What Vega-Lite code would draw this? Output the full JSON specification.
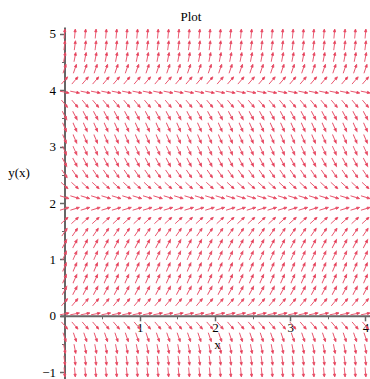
{
  "$schema": "https://vega.github.io/schema/vega-lite/v6.json",
  "width": 310,
  "height": 352,
  "autosize": {"type": "none"},
  "padding": {"left": 60, "top": 27, "right": 0, "bottom": 0},
  "background": "white",
  "title": {"text": "Plot", "font": "Liberation Serif", "fontSize": 13, "fontWeight": "normal", "color": "#000", "anchor": "middle", "dx": -24, "offset": 3},
  "config": {"view": {"stroke": null}},
  "data": {"values": [
    {"y": -1, "a": 84.9, "x": [0,0.138,0.276,0.414,0.552,0.69,0.828,0.966,1.103,1.241,1.379,1.517,1.655,1.793,1.931,2.069,2.207,2.345,2.483,2.621,2.759,2.897,3.034,3.172,3.31,3.448,3.586,3.724,3.862,4]},
    {"y": -0.793, "a": 82.8, "x": [0,0.138,0.276,0.414,0.552,0.69,0.828,0.966,1.103,1.241,1.379,1.517,1.655,1.793,1.931,2.069,2.207,2.345,2.483,2.621,2.759,2.897,3.034,3.172,3.31,3.448,3.586,3.724,3.862,4]},
    {"y": -0.586, "a": 79.1, "x": [0,0.138,0.276,0.414,0.552,0.69,0.828,0.966,1.103,1.241,1.379,1.517,1.655,1.793,1.931,2.069,2.207,2.345,2.483,2.621,2.759,2.897,3.034,3.172,3.31,3.448,3.586,3.724,3.862,4]},
    {"y": -0.379, "a": 71.4, "x": [0,0.138,0.276,0.414,0.552,0.69,0.828,0.966,1.103,1.241,1.379,1.517,1.655,1.793,1.931,2.069,2.207,2.345,2.483,2.621,2.759,2.897,3.034,3.172,3.31,3.448,3.586,3.724,3.862,4]},
    {"y": -0.172, "a": 49.5, "x": [0,0.138,0.276,0.414,0.552,0.69,0.828,0.966,1.103,1.241,1.379,1.517,1.655,1.793,1.931,2.069,2.207,2.345,2.483,2.621,2.759,2.897,3.034,3.172,3.31,3.448,3.586,3.724,3.862,4]},
    {"y": 0.034, "a": -11.4, "x": [0,0.138,0.276,0.414,0.552,0.69,0.828,0.966,1.103,1.241,1.379,1.517,1.655,1.793,1.931,2.069,2.207,2.345,2.483,2.621,2.759,2.897,3.034,3.172,3.31,3.448,3.586,3.724,3.862,4]},
    {"y": 0.241, "a": -50.1, "x": [0,0.138,0.276,0.414,0.552,0.69,0.828,0.966,1.103,1.241,1.379,1.517,1.655,1.793,1.931,2.069,2.207,2.345,2.483,2.621,2.759,2.897,3.034,3.172,3.31,3.448,3.586,3.724,3.862,4]},
    {"y": 0.448, "a": -61.6, "x": [0,0.138,0.276,0.414,0.552,0.69,0.828,0.966,1.103,1.241,1.379,1.517,1.655,1.793,1.931,2.069,2.207,2.345,2.483,2.621,2.759,2.897,3.034,3.172,3.31,3.448,3.586,3.724,3.862,4]},
    {"y": 0.655, "a": -65.7, "x": [0,0.138,0.276,0.414,0.552,0.69,0.828,0.966,1.103,1.241,1.379,1.517,1.655,1.793,1.931,2.069,2.207,2.345,2.483,2.621,2.759,2.897,3.034,3.172,3.31,3.448,3.586,3.724,3.862,4]},
    {"y": 0.862, "a": -66.6, "x": [0,0.138,0.276,0.414,0.552,0.69,0.828,0.966,1.103,1.241,1.379,1.517,1.655,1.793,1.931,2.069,2.207,2.345,2.483,2.621,2.759,2.897,3.034,3.172,3.31,3.448,3.586,3.724,3.862,4]},
    {"y": 1.069, "a": -65.4, "x": [0,0.138,0.276,0.414,0.552,0.69,0.828,0.966,1.103,1.241,1.379,1.517,1.655,1.793,1.931,2.069,2.207,2.345,2.483,2.621,2.759,2.897,3.034,3.172,3.31,3.448,3.586,3.724,3.862,4]},
    {"y": 1.276, "a": -62.1, "x": [0,0.138,0.276,0.414,0.552,0.69,0.828,0.966,1.103,1.241,1.379,1.517,1.655,1.793,1.931,2.069,2.207,2.345,2.483,2.621,2.759,2.897,3.034,3.172,3.31,3.448,3.586,3.724,3.862,4]},
    {"y": 1.483, "a": -55.4, "x": [0,0.138,0.276,0.414,0.552,0.69,0.828,0.966,1.103,1.241,1.379,1.517,1.655,1.793,1.931,2.069,2.207,2.345,2.483,2.621,2.759,2.897,3.034,3.172,3.31,3.448,3.586,3.724,3.862,4]},
    {"y": 1.69, "a": -42.3, "x": [0,0.138,0.276,0.414,0.552,0.69,0.828,0.966,1.103,1.241,1.379,1.517,1.655,1.793,1.931,2.069,2.207,2.345,2.483,2.621,2.759,2.897,3.034,3.172,3.31,3.448,3.586,3.724,3.862,4]},
    {"y": 1.897, "a": -17.2, "x": [0,0.138,0.276,0.414,0.552,0.69,0.828,0.966,1.103,1.241,1.379,1.517,1.655,1.793,1.931,2.069,2.207,2.345,2.483,2.621,2.759,2.897,3.034,3.172,3.31,3.448,3.586,3.724,3.862,4]},
    {"y": 2.103, "a": 17.2, "x": [0,0.138,0.276,0.414,0.552,0.69,0.828,0.966,1.103,1.241,1.379,1.517,1.655,1.793,1.931,2.069,2.207,2.345,2.483,2.621,2.759,2.897,3.034,3.172,3.31,3.448,3.586,3.724,3.862,4]},
    {"y": 2.31, "a": 42.3, "x": [0,0.138,0.276,0.414,0.552,0.69,0.828,0.966,1.103,1.241,1.379,1.517,1.655,1.793,1.931,2.069,2.207,2.345,2.483,2.621,2.759,2.897,3.034,3.172,3.31,3.448,3.586,3.724,3.862,4]},
    {"y": 2.517, "a": 55.4, "x": [0,0.138,0.276,0.414,0.552,0.69,0.828,0.966,1.103,1.241,1.379,1.517,1.655,1.793,1.931,2.069,2.207,2.345,2.483,2.621,2.759,2.897,3.034,3.172,3.31,3.448,3.586,3.724,3.862,4]},
    {"y": 2.724, "a": 62.1, "x": [0,0.138,0.276,0.414,0.552,0.69,0.828,0.966,1.103,1.241,1.379,1.517,1.655,1.793,1.931,2.069,2.207,2.345,2.483,2.621,2.759,2.897,3.034,3.172,3.31,3.448,3.586,3.724,3.862,4]},
    {"y": 2.931, "a": 65.4, "x": [0,0.138,0.276,0.414,0.552,0.69,0.828,0.966,1.103,1.241,1.379,1.517,1.655,1.793,1.931,2.069,2.207,2.345,2.483,2.621,2.759,2.897,3.034,3.172,3.31,3.448,3.586,3.724,3.862,4]},
    {"y": 3.138, "a": 66.6, "x": [0,0.138,0.276,0.414,0.552,0.69,0.828,0.966,1.103,1.241,1.379,1.517,1.655,1.793,1.931,2.069,2.207,2.345,2.483,2.621,2.759,2.897,3.034,3.172,3.31,3.448,3.586,3.724,3.862,4]},
    {"y": 3.345, "a": 65.7, "x": [0,0.138,0.276,0.414,0.552,0.69,0.828,0.966,1.103,1.241,1.379,1.517,1.655,1.793,1.931,2.069,2.207,2.345,2.483,2.621,2.759,2.897,3.034,3.172,3.31,3.448,3.586,3.724,3.862,4]},
    {"y": 3.552, "a": 61.6, "x": [0,0.138,0.276,0.414,0.552,0.69,0.828,0.966,1.103,1.241,1.379,1.517,1.655,1.793,1.931,2.069,2.207,2.345,2.483,2.621,2.759,2.897,3.034,3.172,3.31,3.448,3.586,3.724,3.862,4]},
    {"y": 3.759, "a": 50.1, "x": [0,0.138,0.276,0.414,0.552,0.69,0.828,0.966,1.103,1.241,1.379,1.517,1.655,1.793,1.931,2.069,2.207,2.345,2.483,2.621,2.759,2.897,3.034,3.172,3.31,3.448,3.586,3.724,3.862,4]},
    {"y": 3.966, "a": 11.4, "x": [0,0.138,0.276,0.414,0.552,0.69,0.828,0.966,1.103,1.241,1.379,1.517,1.655,1.793,1.931,2.069,2.207,2.345,2.483,2.621,2.759,2.897,3.034,3.172,3.31,3.448,3.586,3.724,3.862,4]},
    {"y": 4.172, "a": -49.5, "x": [0,0.138,0.276,0.414,0.552,0.69,0.828,0.966,1.103,1.241,1.379,1.517,1.655,1.793,1.931,2.069,2.207,2.345,2.483,2.621,2.759,2.897,3.034,3.172,3.31,3.448,3.586,3.724,3.862,4]},
    {"y": 4.379, "a": -71.4, "x": [0,0.138,0.276,0.414,0.552,0.69,0.828,0.966,1.103,1.241,1.379,1.517,1.655,1.793,1.931,2.069,2.207,2.345,2.483,2.621,2.759,2.897,3.034,3.172,3.31,3.448,3.586,3.724,3.862,4]},
    {"y": 4.586, "a": -79.1, "x": [0,0.138,0.276,0.414,0.552,0.69,0.828,0.966,1.103,1.241,1.379,1.517,1.655,1.793,1.931,2.069,2.207,2.345,2.483,2.621,2.759,2.897,3.034,3.172,3.31,3.448,3.586,3.724,3.862,4]},
    {"y": 4.793, "a": -82.8, "x": [0,0.138,0.276,0.414,0.552,0.69,0.828,0.966,1.103,1.241,1.379,1.517,1.655,1.793,1.931,2.069,2.207,2.345,2.483,2.621,2.759,2.897,3.034,3.172,3.31,3.448,3.586,3.724,3.862,4]},
    {"y": 5, "a": -84.9, "x": [0,0.138,0.276,0.414,0.552,0.69,0.828,0.966,1.103,1.241,1.379,1.517,1.655,1.793,1.931,2.069,2.207,2.345,2.483,2.621,2.759,2.897,3.034,3.172,3.31,3.448,3.586,3.724,3.862,4]}
  ]},
  "transform": [{"flatten": ["x"]}],
  "layer": [
    {
      "mark": {"type": "point", "opacity": 0},
      "encoding": {
        "x": {"field": "x", "type": "quantitative", "scale": {"domain": [-0.06, 4.06], "nice": false, "zero": false},
          "axis": {"orient": "bottom", "offset": -63.2, "values": [0.5, 1.5, 2.5, 3.5], "labels": false, "domain": false, "grid": false, "ticks": true, "tickSize": 3, "tickWidth": 1, "tickColor": "#666", "title": null}},
        "y": {"field": "y", "type": "quantitative", "scale": {"domain": [-1.12, 5.12], "nice": false, "zero": false},
          "axis": {"orient": "left", "offset": -4.5, "values": [-0.5, 0.5, 1.5, 2.5, 3.5, 4.5], "labels": false, "domain": false, "grid": false, "ticks": true, "tickSize": 3, "tickWidth": 1, "tickColor": "#666", "title": null}}
      }
    },
    {
      "mark": {"type": "point", "shape": "M-1,0L0.5,0M1,0L0.4,-0.24L0.4,0.24Z", "size": 90, "fill": "#e01f3a", "stroke": "#e8546c", "strokeWidth": 0.9, "opacity": 1},
      "encoding": {
        "x": {"field": "x", "type": "quantitative", "scale": {"domain": [-0.06, 4.06], "nice": false, "zero": false},
          "axis": {"orient": "bottom", "offset": -63.2, "values": [1, 2, 3, 4], "format": "d", "grid": false, "domainColor": "#666", "domainWidth": 2, "tickColor": "#666", "tickSize": 5, "tickWidth": 1.5, "labelFont": "Liberation Serif", "labelFontSize": 13, "labelColor": "#000", "labelPadding": 1, "title": "x", "titleFont": "Liberation Serif", "titleFontSize": 13, "titleFontWeight": "normal", "titleColor": "#000", "titleX": 157, "titleY": 29, "titleAlign": "center", "titleBaseline": "middle"}},
        "y": {"field": "y", "type": "quantitative", "scale": {"domain": [-1.12, 5.12], "nice": false, "zero": false},
          "axis": {"orient": "left", "offset": -4.5, "values": [-1, 0, 1, 2, 3, 4, 5], "format": "d", "grid": false, "domainColor": "#666", "domainWidth": 2, "tickColor": "#666", "tickSize": 5, "tickWidth": 1.5, "labelFont": "Liberation Serif", "labelFontSize": 13, "labelColor": "#000", "labelPadding": 4, "title": "y(x)", "titleFont": "Liberation Serif", "titleFontSize": 13, "titleFontWeight": "normal", "titleColor": "#000", "titleAngle": 0, "titleX": -46, "titleY": 145, "titleAlign": "center", "titleBaseline": "middle"}},
        "angle": {"field": "a", "type": "quantitative", "scale": null}
      }
    }
  ],
  "resolve": {"axis": {"x": "independent", "y": "independent"}}
}
